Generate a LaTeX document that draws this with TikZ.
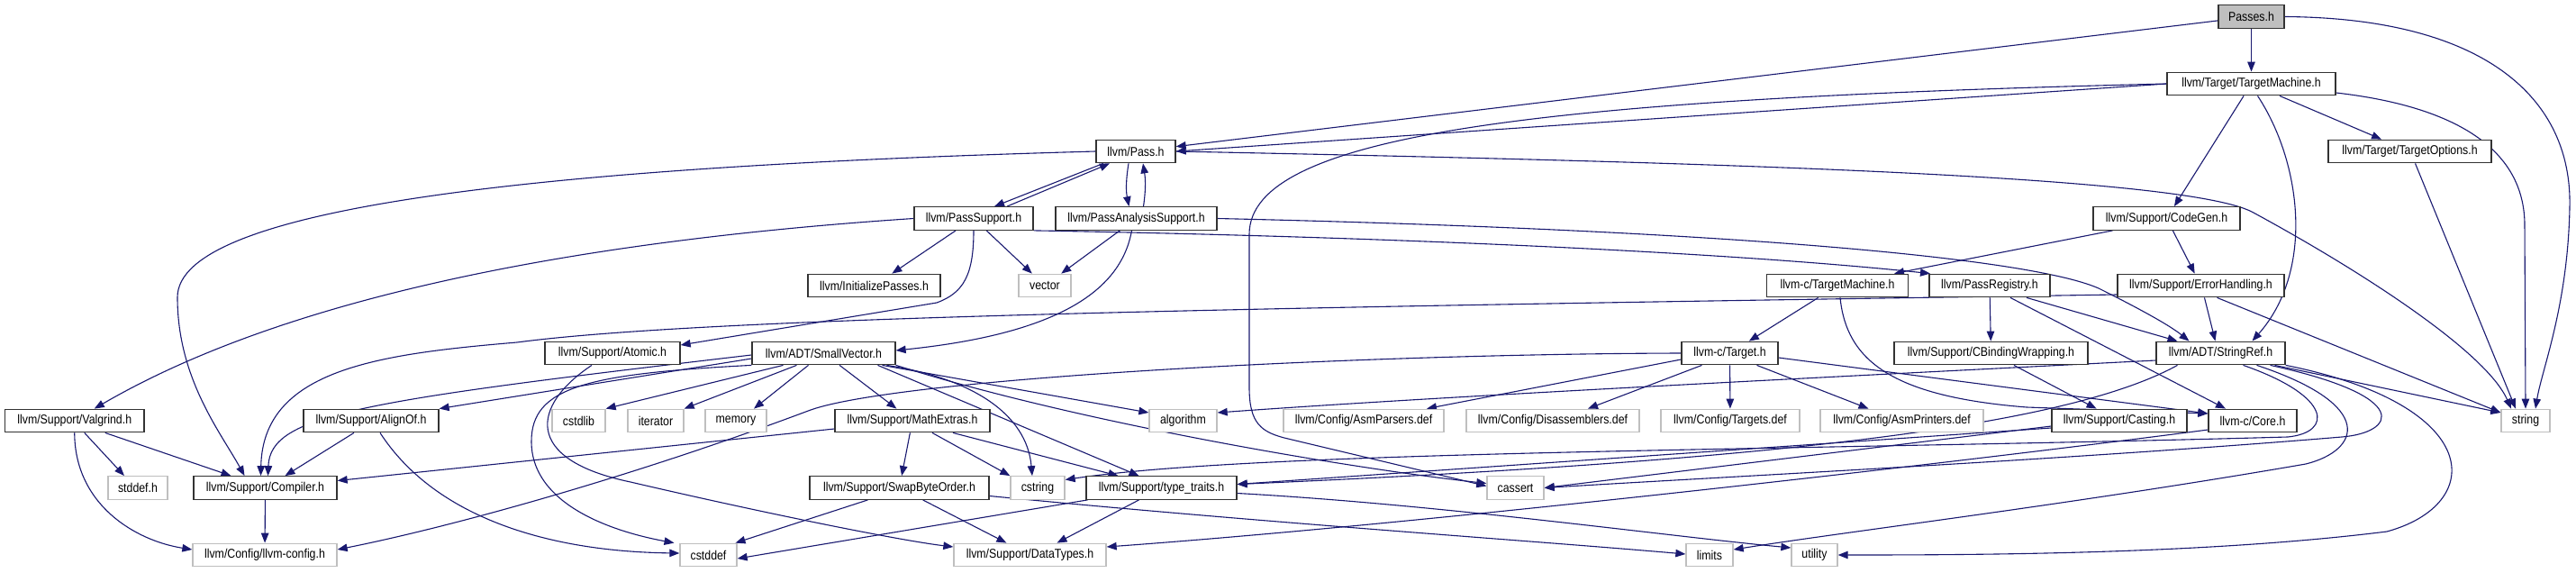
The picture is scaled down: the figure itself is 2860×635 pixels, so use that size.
\documentclass[tikz,border=0pt]{standalone}
\usepackage{fontspec}
\setmainfont{Liberation Sans}[FakeStretch=0.87]
\usetikzlibrary{arrows.meta}
\definecolor{edgeblue}{HTML}{191970}
\definecolor{rootgray}{HTML}{BFBFBF}
\definecolor{lightbord}{HTML}{BFBFBF}
\pgfdeclarelayer{edgelayer}
\pgfsetlayers{edgelayer,main}
\begin{document}
\begin{tikzpicture}[x=1pt,y=-1pt,
  nb/.style={draw=black!80, line width=1.3pt, fill=white, minimum height=25.5pt,
    inner sep=0pt, font=\fontsize{14.2}{16}\selectfont, text=black},
  gb/.style={nb, draw=lightbord},
  rb/.style={nb, fill=rootgray},
  e/.style={draw=edgeblue, line width=1.1pt, -{Triangle[length=11pt,width=8.5pt]}}]
\useasboundingbox (0,0) rectangle (2860,635);

% ---------------- nodes ----------------
\node[rb, minimum width=73pt]  (passes) at (2499.5,18.5) {Passes.h};
\node[nb, minimum width=187pt] (tm) at (2499.5,93) {llvm/Target/TargetMachine.h};
\node[nb, minimum width=88pt]  (pass) at (1261,168) {llvm/Pass.h};
\node[nb, minimum width=181pt] (topt) at (2675.5,168) {llvm/Target/TargetOptions.h};
\node[nb, minimum width=132pt] (psup) at (1081,242.5) {llvm/PassSupport.h};
\node[nb, minimum width=179pt] (pas) at (1261.5,242.5) {llvm/PassAnalysisSupport.h};
\node[nb, minimum width=163pt] (cg) at (2405.5,242.5) {llvm/Support/CodeGen.h};
\node[nb, minimum width=147pt] (initp) at (970.5,317) {llvm/InitializePasses.h};
\node[gb, minimum width=58pt]  (vector) at (1160,317) {vector};
\node[nb, minimum width=157pt] (ctm) at (2040,317) {llvm-c/TargetMachine.h};
\node[nb, minimum width=134pt] (preg) at (2209,317) {llvm/PassRegistry.h};
\node[nb, minimum width=185pt] (eh) at (2443.5,317) {llvm/Support/ErrorHandling.h};
\node[nb, minimum width=150pt] (atomic) at (680,392) {llvm/Support/Atomic.h};
\node[nb, minimum width=159pt] (sv) at (914.5,392) {llvm/ADT/SmallVector.h};
\node[nb, minimum width=107pt] (ctarget) at (1920.5,392) {llvm-c/Target.h};
\node[nb, minimum width=215pt] (cbw) at (2210.5,392) {llvm/Support/CBindingWrapping.h};
\node[nb, minimum width=143pt] (sref) at (2465.5,392) {llvm/ADT/StringRef.h};
\node[nb, minimum width=154.5pt] (valgrind) at (82.75,467) {llvm/Support/Valgrind.h};
\node[nb, minimum width=150pt] (alignof) at (412,467) {llvm/Support/AlignOf.h};
\node[gb, minimum width=59pt]  (cstdlib) at (642.5,467) {cstdlib};
\node[gb, minimum width=62pt]  (iterator) at (728,467) {iterator};
\node[gb, minimum width=68pt]  (memory) at (817,467) {memory};
\node[nb, minimum width=172pt] (mathx) at (1013,467) {llvm/Support/MathExtras.h};
\node[gb, minimum width=75pt]  (algorithm) at (1313.5,467) {algorithm};
\node[gb, minimum width=178pt] (asmparsers) at (1514,467) {llvm/Config/AsmParsers.def};
\node[gb, minimum width=192pt] (disasm) at (1724,467) {llvm/Config/Disassemblers.def};
\node[gb, minimum width=154pt] (targetsdef) at (1921,467) {llvm/Config/Targets.def};
\node[gb, minimum width=181pt] (asmprinters) at (2111.5,467) {llvm/Config/AsmPrinters.def};
\node[nb, minimum width=150pt] (casting) at (2353,467) {llvm/Support/Casting.h};
\node[nb, minimum width=98pt]  (ccore) at (2501,467) {llvm-c/Core.h};
\node[gb, minimum width=54pt]  (string) at (2804,467) {string};
\node[gb, minimum width=66pt]  (stddef) at (153,541.5) {stddef.h};
\node[nb, minimum width=159pt] (compiler) at (294.5,541.5) {llvm/Support/Compiler.h};
\node[nb, minimum width=199pt] (swap) at (998.5,541.5) {llvm/Support/SwapByteOrder.h};
\node[gb, minimum width=60pt]  (cstring) at (1152,541.5) {cstring};
\node[nb, minimum width=167pt] (tt) at (1289.5,541.5) {llvm/Support/type\_traits.h};
\node[gb, minimum width=63pt]  (cassert) at (1682.5,541.5) {cassert};
\node[gb, minimum width=160pt] (llvmconfig) at (294,616) {llvm/Config/llvm-config.h};
\node[gb, minimum width=63pt]  (cstddef) at (786.5,616) {cstddef};
\node[gb, minimum width=169pt] (datatypes) at (1143.5,616) {llvm/Support/DataTypes.h};
\node[gb, minimum width=52pt]  (limits) at (1898,616) {limits};
\node[gb, minimum width=51pt]  (utility) at (2014.5,616) {utility};

\begin{pgfonlayer}{edgelayer}
\fill[white] (0,0) rectangle (2860,635);
% ---------------- edges ----------------
% Passes.h
\draw[e] (passes) -- (pass);
\draw[e] (passes) -- (tm);
\draw[e] (passes.east) .. controls (2760,20) and (2856,110) .. (2853,230)
  .. controls (2851,340) and (2822,410) .. ([xshift=11pt]string.north);
% TargetMachine.h
\draw[e] (tm.west) -- (pass.east);
\draw[e] (tm.west) .. controls (1700,110) and (1387,150) .. (1387,260) -- (1387,430)
  .. controls (1387,470) and (1400,480) .. (1430,487) -- ([yshift=2pt]cassert.west);
\draw[e] ([xshift=7pt]tm.south) .. controls (2555,180) and (2570,300) .. ([xshift=35pt]sref.north);
\draw[e] (tm) -- (topt);
\draw[e] (tm) -- (cg);
\draw[e] ([yshift=-10pt]tm.east) .. controls (2725,118) and (2803,165) .. (2803,250) -- (string.north);
% Pass.h
\draw[e] ([xshift=-36pt]pass.south) -- ([xshift=23pt]psup.north);
\draw[e] ([xshift=37pt]psup.north) -- ([xshift=-29pt]pass.south);
\draw[e] ([xshift=-8pt]pass.south) .. controls (1250,200) and (1250,212) .. ([xshift=-8pt]pas.north);
\draw[e] ([xshift=8pt]pas.north) .. controls (1272,212) and (1272,200) .. ([xshift=8pt]pass.south);
\draw[e] (pass.west) .. controls (600,185) and (197,230) .. (197,330)
  .. controls (197,420) and (245,480) .. ([xshift=-23pt]compiler.north);
\draw[e] (pass.east) .. controls (1900,180) and (2420,195) .. (2500,235)
  .. controls (2620,300) and (2760,390) .. ([xshift=-16pt]string.north);
% PassSupport.h
\draw[e] (psup) -- (initp);
\draw[e] (psup) -- (vector);
\draw[e] (psup.south) .. controls (1081,305) and (1070,325) .. (1040,336) -- ([yshift=9pt]atomic.east);
\draw[e] (psup.west) .. controls (600,270) and (300,340) .. ([xshift=22pt]valgrind.north);
\draw[e] (psup.south east) .. controls (1500,262) and (1900,278) .. ([xshift=-66pt]preg.north);
% PassAnalysisSupport.h
\draw[e] (pas) -- (vector);
\draw[e] ([xshift=-5pt]pas.south) .. controls (1245,320) and (1180,370) .. ([yshift=3pt]sv.east);
\draw[e] (pas.east) .. controls (1900,255) and (2250,285) .. (2330,320)
  .. controls (2380,345) and (2410,362) .. ([xshift=-35pt]sref.north);
% CodeGen.h, TargetOptions.h
\draw[e] ([xshift=-60pt]cg.south) -- ([xshift=63pt]ctm.north);
\draw[e] (cg) -- (eh);
\draw[e] ([xshift=6pt]topt.south) -- ([xshift=-11pt]string.north);
% llvm-c/TargetMachine.h
\draw[e] (ctm) -- (ctarget);
\draw[e] ([xshift=3pt]ctm.south) .. controls (2050,400) and (2100,440) .. (2250,452) -- ([yshift=8pt]ccore.west);
% PassRegistry.h
\draw[e] (preg) -- (cbw);
\draw[e] ([xshift=23pt]preg.south) -- ([xshift=-30pt]ccore.north);
\draw[e] ([xshift=41pt]preg.south) -- ([xshift=-48pt]sref.north);
% ErrorHandling.h
\draw[e] ([xshift=4pt]eh.south) -- ([xshift=-6pt]sref.north);
\draw[e] ([yshift=-10pt]eh.west) .. controls (1500,340) and (800,350) .. (574,380)
  .. controls (420,393) and (292,410) .. ([xshift=-5pt]compiler.north);
\draw[e] ([xshift=18pt]eh.south) -- ([yshift=9pt]string.west);
% Atomic.h
\draw[e] ([xshift=-23pt]atomic.south) .. controls (590,450) and (580,510) .. (700,535)
  .. controls (850,570) and (1000,600) .. ([yshift=9pt]datatypes.west);
% SmallVector.h
\draw[e] ([yshift=-6pt]sv.west) -- (alignof.north east);
\draw[e] ([yshift=-2pt]sv.west) .. controls (400,445) and (300,460) .. ([xshift=3pt]compiler.north);
\draw[e] (sv) -- (mathx);
\draw[e] ([xshift=60pt]sv.south) -- ([xshift=-25pt]tt.north);
\draw[e] ([xshift=65pt]sv.south) -- ([yshift=9pt]algorithm.west);
\draw[e] (sv.south east) .. controls (1200,470) and (1500,520) .. ([yshift=5pt]cassert.west);
\draw[e] (sv.south west) .. controls (650,415) and (590,430) .. (590,490)
  .. controls (590,560) and (680,590) .. ([xshift=-38pt]cstddef.north);
\draw[e] ([xshift=-45pt]sv.south) -- (cstdlib.north east);
\draw[e] ([xshift=-30pt]sv.south) -- (iterator.north east);
\draw[e] ([xshift=-17pt]sv.south) -- ([xshift=20pt]memory.north);
\draw[e] ([xshift=70pt]sv.south) .. controls (1080,420) and (1140,460) .. ([xshift=-6pt]cstring.north);
% llvm-c/Target.h
\draw[e] (ctarget.west) .. controls (1500,393) and (1000,420) .. (900,455)
  .. controls (700,530) and (500,585) .. ([yshift=6pt]llvmconfig.east);
\draw[e] ([yshift=-7pt]ctarget.west) -- ([xshift=70pt]asmparsers.north);
\draw[e] ([xshift=-31pt]ctarget.south) -- ([xshift=39pt]disasm.north);
\draw[e] (ctarget) -- (targetsdef);
\draw[e] ([xshift=30pt]ctarget.south) -- ([xshift=-37pt]asmprinters.north);
\draw[e] ([yshift=-5pt]ctarget.east) -- ([yshift=8pt]ccore.west);
% CBindingWrapping.h
\draw[e] (cbw) -- (casting);
% StringRef.h
\draw[e] ([xshift=-48pt]sref.south) .. controls (2300,470) and (2000,510) .. ([yshift=4pt]tt.east);
\draw[e] ([yshift=-8pt]sref.west) .. controls (2000,420) and (1600,440) .. ([yshift=9pt]algorithm.east);
\draw[e] ([xshift=55pt]sref.south) .. controls (2680,440) and (2660,480) .. (2600,485)
  .. controls (2300,510) and (1900,530) .. (cassert.east);
\draw[e] ([xshift=25pt]sref.south) .. controls (2590,440) and (2590,480) .. (2540,485)
  .. controls (2000,500) and (1400,500) .. ([yshift=9pt]cstring.east);
\draw[e] ([xshift=40pt]sref.south) .. controls (2640,450) and (2620,500) .. (2560,515)
  .. controls (2300,560) and (2050,590) .. ([yshift=6pt]limits.east);
\draw[e] (sref.south east) .. controls (2760,450) and (2760,560) .. (2650,590)
  .. controls (2450,615) and (2200,616) .. (utility.east);
\draw[e] ([xshift=60pt]sref.south) -- ([yshift=9pt]string.west);
% Valgrind.h
\draw[e] (valgrind.south) .. controls (83,560) and (150,600) .. ([yshift=6pt]llvmconfig.west);
\draw[e] ([xshift=34pt]valgrind.south) -- ([xshift=-38pt]compiler.north);
\draw[e] ([xshift=11pt]valgrind.south) -- ([xshift=-15pt]stddef.north);
% AlignOf.h
\draw[e] ([xshift=-19pt]alignof.south) -- ([xshift=22pt]compiler.north);
\draw[e] ([xshift=10pt]alignof.south) .. controls (480,570) and (600,612) .. ([yshift=2pt]cstddef.west);
% MathExtras.h
\draw[e] ([yshift=-9pt]mathx.west) -- ([yshift=8pt]compiler.east);
\draw[e] (mathx) -- (swap);
\draw[e] ([xshift=22pt]mathx.south) -- (cstring.north west);
\draw[e] ([xshift=45pt]mathx.south) -- ([xshift=-48pt]tt.north);
% Casting.h
\draw[e] ([yshift=-8pt]casting.west) -- ([yshift=4pt]tt.east);
\draw[e] ([yshift=-6pt]casting.west) -- (cassert.east);
% Core.h
\draw[e] ([yshift=-10pt]ccore.west) .. controls (2200,510) and (1600,580) .. ([yshift=9pt]datatypes.east);
% Compiler.h
\draw[e] (compiler) -- (llvmconfig);
% SwapByteOrder.h
\draw[e] (swap) -- (datatypes);
\draw[e] ([xshift=-35pt]swap.south) -- ([xshift=30pt]cstddef.north);
\draw[e] ([yshift=-9pt]swap.east) .. controls (1400,580) and (1700,600) .. ([yshift=1pt]limits.west);
% type_traits.h
\draw[e] ([xshift=-25pt]tt.south) -- ([xshift=30pt]datatypes.north);
\draw[e] ([xshift=-82pt]tt.south) -- ([yshift=-4pt]cstddef.east);
\draw[e] ([yshift=-6pt]tt.east) .. controls (1600,560) and (1850,595) .. ([yshift=8pt]utility.west);
\end{pgfonlayer}
\end{tikzpicture}
\end{document}
